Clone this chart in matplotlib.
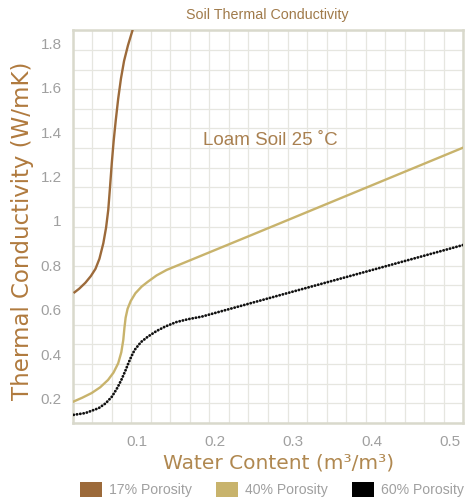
import matplotlib
matplotlib.use("Agg")
import matplotlib.pyplot as plt
from matplotlib.patches import Patch
import numpy as np

# values
x17 = [0.019, 0.026, 0.034, 0.041, 0.047, 0.052, 0.057, 0.0605, 0.0633, 0.0655, 0.0678,
       0.0702, 0.0728, 0.0760, 0.0795, 0.0835, 0.0885, 0.0945]
y17 = [0.676, 0.695, 0.722, 0.752, 0.785, 0.83, 0.90, 0.97, 1.05, 1.15, 1.26,
       1.36, 1.45, 1.55, 1.64, 1.72, 1.79, 1.86]

x40 = [0.019, 0.030, 0.042, 0.053, 0.063, 0.070, 0.076, 0.080, 0.0825, 0.084, 0.0855,
       0.088, 0.092, 0.098, 0.106, 0.114, 0.125, 0.138, 0.25, 0.38, 0.517]
y40 = [0.188, 0.205, 0.226, 0.252, 0.285, 0.318, 0.36, 0.41, 0.465, 0.52, 0.565,
       0.605, 0.64, 0.675, 0.705, 0.727, 0.755, 0.78, 0.942, 1.131, 1.33]

x60 = [0.019, 0.034, 0.051, 0.060, 0.068, 0.075, 0.080, 0.085, 0.089, 0.093, 0.097,
       0.105, 0.114, 0.125, 0.136, 0.150, 0.165, 0.183, 0.30, 0.40, 0.517]
y60 = [0.128, 0.136, 0.158, 0.18, 0.21, 0.25, 0.285, 0.325, 0.36, 0.392, 0.42,
       0.455, 0.48, 0.505, 0.525, 0.545, 0.558, 0.57, 0.683, 0.779, 0.892]

series_labels = ["17% Porosity", "40% Porosity", "60% Porosity"]
xticks = [0.1, 0.2, 0.3, 0.4, 0.5]
yticks = [0.2, 0.4, 0.6, 0.8, 1.0, 1.2, 1.4, 1.6, 1.8]
ytick_labels = ["0.2", "0.4", "0.6", "0.8", "1", "1.2", "1.4", "1.6", "1.8"]

c17 = "#9c6a3a"
c40 = "#c8b36c"
c60 = "#111111"
grey = "#a0a0a0"
narrow = ["Liberation Sans Narrow", "Liberation Sans", "DejaVu Sans"]
plain = ["DejaVu Sans"]

fig = plt.figure(figsize=(4.76, 5.04), dpi=100)
ax = fig.add_axes([0.153, 0.161, 0.820, 0.779])

# decorative 20x20 background grid (not tied to the data ticks)
for f in np.linspace(0, 1, 21):
    ax.plot([f, f], [0, 1], transform=ax.transAxes, color="#e6e6e0", lw=0.9, zorder=0)
    ax.plot([0, 1], [f, f], transform=ax.transAxes, color="#e6e6e0", lw=0.9, zorder=0)

ax.plot(x17, y17, color=c17, lw=1.7, solid_capstyle="butt", zorder=3)
ax.plot(x40, y40, color=c40, lw=1.7, zorder=3)
ax.plot(x60, y60, color=c60, lw=2.0, linestyle=(0, (0.1, 1.1)),
        dash_capstyle="round", zorder=3)

ax.set_xlim(0.018, 0.517)
ax.set_ylim(0.092, 1.858)

ax.set_xticks(xticks)
ax.set_xticklabels([str(t) for t in xticks], fontfamily=narrow)
ax.set_yticks(yticks)
ax.set_yticklabels(ytick_labels, fontfamily=narrow)
ax.tick_params(length=0, labelsize=11, colors=grey, pad=8)
ax.tick_params(axis="x", pad=9)

for s in ax.spines.values():
    s.set_color("#d9d9cc")
    s.set_linewidth(1.8)

ax.set_xlabel("Water Content (m³/m³)", fontsize=14.5, color="#b08850",
              fontfamily=plain)
ax.xaxis.set_label_coords(0.526, -0.078)
ax.set_ylabel("Thermal Conductivity (W/mK)", fontsize=16.5, color="#b07a3e",
              fontfamily=plain)
ax.yaxis.set_label_coords(-0.10, 0.49)

fig.text(0.561, 0.970, "Soil Thermal Conductivity", ha="center", va="center",
         fontsize=10.3, color="#a07a4a", fontfamily=narrow)
ax.text(0.27, 1.364, "Loam Soil 25 ˚C", fontsize=13.5, color="#a98050",
        fontfamily=["Liberation Sans", "DejaVu Sans"], ha="center", va="center")

handles = [Patch(facecolor=c17, edgecolor="none"),
           Patch(facecolor=c40, edgecolor="none"),
           Patch(facecolor="#000000", edgecolor="none")]
fig.legend(handles, series_labels, loc="center", bbox_to_anchor=(0.571, 0.029),
           ncol=3, frameon=False, handlelength=1.6, handleheight=1.3,
           columnspacing=1.7, handletextpad=0.5, labelcolor=grey,
           borderaxespad=0, borderpad=0,
           prop={"family": narrow, "size": 10.1})

fig.savefig("out.png", dpi=100)
